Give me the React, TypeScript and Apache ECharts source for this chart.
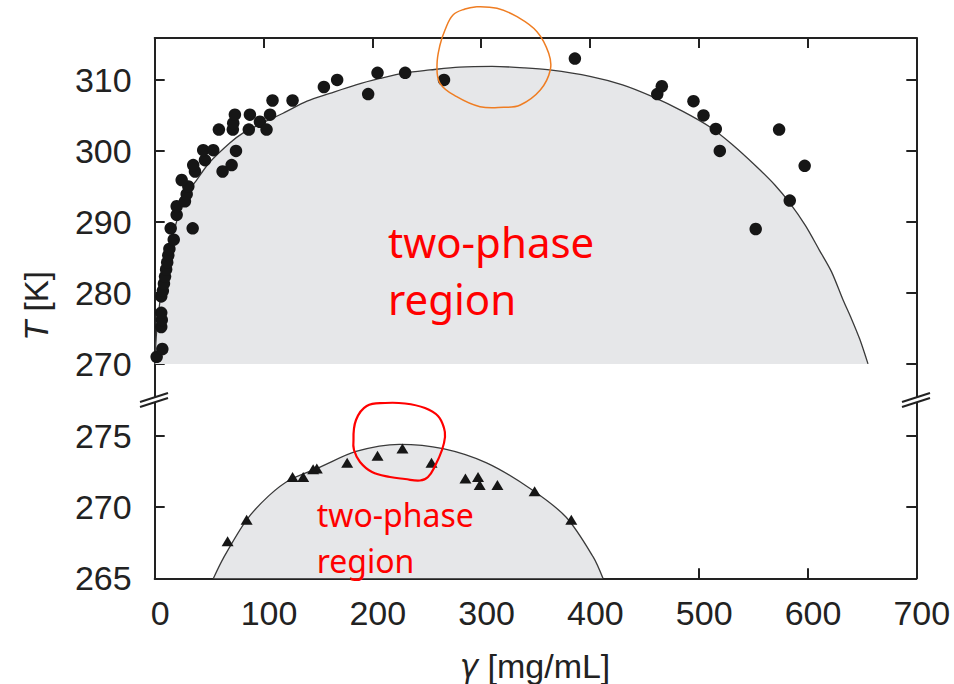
import React, { useEffect, useRef } from "react";
import * as echarts from "echarts";

// ---- data ----
const xTicks = [0, 100, 200, 300, 400, 500, 600, 700];
const topYTicks = [270, 280, 290, 300, 310];
const bottomYTicks = [265, 270, 275];

// upper panel: measured points (gamma mg/mL, T K)
const topCircles: [number, number][] = [
  [1.8, 271], [7, 272.1], [6, 275.2], [6.5, 276.2], [6, 277.2], [6, 279.5],
  [7.5, 280.3], [8.5, 281.3], [9.5, 282.3], [10.5, 283.3], [11.5, 284.3],
  [12.5, 285.3], [13.5, 286.2], [17.5, 287.5], [14.7, 289.1], [34.9, 289.1],
  [20.2, 291], [20.2, 292.2], [27.8, 292.9], [29.4, 293.9], [30.9, 295],
  [24.8, 295.9], [37, 297.1], [35.4, 298], [46.2, 298.7], [44.6, 300.1],
  [53.8, 300.1], [62.4, 297.1], [70.7, 298], [74.7, 300], [59, 303],
  [71.8, 303], [72.2, 303.9], [73.7, 305.1], [86.5, 303], [87.5, 305.1],
  [96.7, 304.1], [102.8, 303], [106, 305.1], [108.3, 307.1], [126.7, 307.1],
  [155.5, 309], [167.7, 310], [196.2, 308], [204.8, 311], [230.2, 311],
  [265.9, 310], [386.2, 313], [461.9, 308], [466.1, 309.1], [495.2, 307],
  [504.4, 305], [515.7, 303.1], [519.4, 300], [552.4, 289], [573.9, 303],
  [583.7, 293], [597.4, 297.9],
];

// upper panel: fitted coexistence curve
const topCurve: [number, number][] = [
  [0, 270], [2, 275], [5, 279], [9, 283], [15, 287], [22, 291], [30, 294],
  [39, 296], [50, 298.3], [69, 301.1], [81, 302.5], [100, 304], [118, 305.3],
  [140, 307], [161, 308.1], [185, 309.3], [207, 310.2], [230, 311],
  [253, 311.4], [280, 311.8], [310, 311.9], [340, 311.7], [363, 311.4],
  [400, 310.5], [430, 309.3], [458, 307.6], [485, 305.6], [510, 303.4],
  [530, 301], [553, 297.8], [570, 295.2], [583.5, 292.7], [598, 289.5],
  [611, 286], [622, 283], [632.7, 279], [640, 276.5], [648, 273.5],
  [655.6, 270],
];

// lower panel: measured points
const bottomTriangles: [number, number][] = [
  [67, 267.6], [84.5, 269.1], [126.7, 272.1], [136.5, 272.1], [145.6, 272.65],
  [149, 272.7], [176.9, 273.1], [204.8, 273.6], [227.7, 274.1], [254.4, 273.1],
  [285.6, 272], [297.2, 272.1], [298.7, 271.55], [315, 271.55], [349.2, 271.1],
  [382.9, 269.1],
];

// lower panel: fitted curve
const bottomCurve: [number, number][] = [
  [54, 265], [63, 266.4], [84.5, 269.1], [105, 270.8], [124, 271.9],
  [152, 272.8], [185, 273.9], [225, 274.4], [265, 274.1], [305, 273.1],
  [345, 271.3], [378, 269.3], [403, 266.5], [412, 265],
];

// ---- styling ----
const AX = "#222";
const LABEL_FONT = "Liberation Sans";
const FILL = "#e6e7e9";

const orangeLoop = [
  [476.7, 6.7], [497, 8.3], [517, 16.7], [537, 31.7], [548.7, 53.3], [550.3, 70],
  [540.3, 90], [520.3, 105], [503.7, 107.3], [480, 106.7], [456.7, 96.7],
  [440, 83.3], [437, 65], [440, 45], [445, 30], [453, 15], [465, 9], [476.7, 6.7],
];
const redLoop = [
  [353.5, 440], [356, 420], [366.7, 406], [385, 403], [405, 403.5], [425, 408],
  [438, 416], [444, 428], [445, 437], [442, 450], [435, 466], [428, 477],
  [420, 480.5], [405, 479], [390, 477], [372, 472], [360, 462], [354, 450],
  [353.5, 440],
];

function yAxisCfg(grid: number, side: "left" | "right", min: number, max: number, ticks: number[]) {
  return {
    type: "value",
    gridIndex: grid,
    position: side,
    min,
    max,
    axisLine: { show: true, onZero: false, lineStyle: { color: AX, width: 2 } },
    axisTick: {
      show: true,
      inside: true,
      length: 10,
      customValues: ticks,
      lineStyle: { color: AX, width: 2 },
    },
    axisLabel: {
      show: side === "left",
      customValues: ticks,
      margin: 23,
      fontSize: 34,
      fontFamily: LABEL_FONT,
      color: AX,
    },
    splitLine: { show: false },
  };
}

function xAxisCfg(grid: number, pos: "top" | "bottom") {
  return {
    type: "value",
    gridIndex: grid,
    position: pos,
    min: 0,
    max: 700,
    interval: 100,
    axisLine: { show: true, onZero: false, lineStyle: { color: AX, width: 2 } },
    axisTick: { show: true, inside: true, length: 10, lineStyle: { color: AX, width: 2 } },
    axisLabel: {
      show: pos === "bottom",
      margin: 18,
      fontSize: 34,
      fontFamily: LABEL_FONT,
      color: AX,
      padding: [0, 0, 0, 11],
    },
    splitLine: { show: false },
  };
}

export default function App() {
  const ref = useRef<HTMLDivElement>(null);

  useEffect(() => {
    if (!ref.current) return;
    const chart = echarts.init(ref.current, undefined, { renderer: "svg" });

    const breakLines = (x0: number) => [
      {
        type: "line",
        shape: { x1: x0, y1: 407, x2: x0 + 28, y2: 398 },
        style: { stroke: AX, lineWidth: 2 },
        z: 100,
      },
      {
        type: "line",
        shape: { x1: x0, y1: 402, x2: x0 + 28, y2: 393 },
        style: { stroke: AX, lineWidth: 2 },
        z: 100,
      },
    ];

    chart.setOption({
      animation: false,
      backgroundColor: "#ffffff",
      grid: [
        { left: 154.7, width: 761.6, top: 38, height: 360 },
        { left: 154.7, width: 761.6, top: 403, height: 175.3 },
      ],
      xAxis: [xAxisCfg(0, "top"), xAxisCfg(1, "bottom")],
      yAxis: [
        yAxisCfg(0, "left", 265.2, 315.9, topYTicks),
        yAxisCfg(0, "right", 265.2, 315.9, topYTicks),
        yAxisCfg(1, "left", 265, 277.3, bottomYTicks),
        yAxisCfg(1, "right", 265, 277.3, bottomYTicks),
      ],
      series: [
        {
          type: "line",
          xAxisIndex: 0,
          yAxisIndex: 0,
          data: topCurve,
          smooth: 0.3,
          showSymbol: false,
          lineStyle: { color: "#3a3a3a", width: 1.3 },
          areaStyle: { color: FILL, opacity: 1, origin: 270 },
          z: 1,
        },
        {
          type: "scatter",
          xAxisIndex: 0,
          yAxisIndex: 0,
          data: topCircles,
          symbol: "circle",
          symbolSize: 12.5,
          itemStyle: { color: "#161616", opacity: 1 },
          z: 3,
        },
        {
          type: "line",
          xAxisIndex: 1,
          yAxisIndex: 2,
          data: bottomCurve,
          smooth: 0.3,
          showSymbol: false,
          lineStyle: { color: "#3a3a3a", width: 1.3 },
          areaStyle: { color: FILL, opacity: 1, origin: "start" },
          z: 1,
        },
        {
          type: "scatter",
          xAxisIndex: 1,
          yAxisIndex: 2,
          data: bottomTriangles,
          symbol: "triangle",
          symbolSize: [12, 10],
          itemStyle: { color: "#161616", opacity: 1 },
          z: 3,
        },
      ],
      graphic: [
        // gap for the axis break
        { type: "rect", shape: { x: 145, y: 398, width: 20, height: 5 }, style: { fill: "#fff" }, z: 99 },
        { type: "rect", shape: { x: 906, y: 398, width: 20, height: 5 }, style: { fill: "#fff" }, z: 99 },
        ...breakLines(140),
        ...breakLines(902),
        {
          type: "text",
          x: 36,
          y: 306,
          rotation: Math.PI / 2,
          style: {
            text: "{i|T} [K]",
            fontSize: 33,
            fontFamily: LABEL_FONT,
            fill: AX,
            align: "center",
            verticalAlign: "middle",
            rich: { i: { fontStyle: "italic", fontSize: 33, fontFamily: LABEL_FONT, fill: AX } },
          },
        },
        {
          type: "text",
          x: 535,
          y: 666,
          style: {
            text: "{i|γ} [mg/mL]",
            fontSize: 34,
            fontFamily: LABEL_FONT,
            fill: AX,
            align: "center",
            verticalAlign: "middle",
            rich: { i: { fontStyle: "italic", fontSize: 31, fontFamily: "DejaVu Sans", fill: AX } },
          },
        },
        {
          type: "text",
          x: 388,
          y: 213,
          style: {
            text: "two-phase\nregion",
            fontSize: 42,
            lineHeight: 57,
            fontFamily: "Noto Sans",
            fill: "#ff0000",
            align: "left",
            verticalAlign: "top",
          },
          z: 50,
        },
        {
          type: "text",
          x: 316.7,
          y: 491,
          style: {
            text: "two-phase\nregion",
            fontSize: 32,
            lineHeight: 46,
            fontFamily: "Noto Sans",
            fill: "#ff0000",
            align: "left",
            verticalAlign: "top",
          },
          z: 50,
        },
        {
          type: "polyline",
          shape: { points: orangeLoop, smooth: 0.4 },
          style: { stroke: "#ef7d22", lineWidth: 1.5, fill: "none" },
          z: 60,
        },
        {
          type: "polyline",
          shape: { points: redLoop, smooth: 0.4 },
          style: { stroke: "#ff0000", lineWidth: 2.2, fill: "none" },
          z: 60,
        },
      ],
    });

    return () => chart.dispose();
  }, []);

  return (
    <div
      ref={ref}
      style={{ position: "absolute", left: 0, top: 0, width: 954, height: 684 }}
    />
  );
}
